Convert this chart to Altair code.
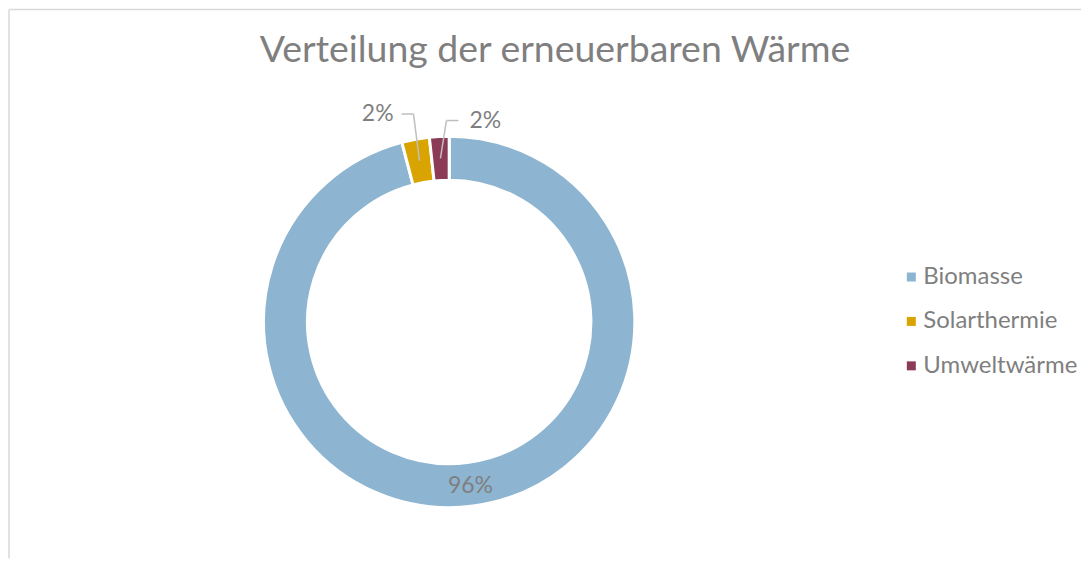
import altair as alt
import pandas as pd

categories = ["Biomasse", "Solarthermie", "Umweltwärme"]
shares = [95.9, 2.4, 1.7]
labels = ["96%", "2%", "2%"]
colors = ["#8DB4D0", "#DAA400", "#8B3B56"]
title_text = "Verteilung der erneuerbaren Wärme"

W, H = 1074, 550
CX, CY = 441, 313
R_OUT, R_IN = 186, 142
R_MID, R_LAB = 164, 166
GRAY = "#7f7f7f"
FONT = "Lato"

df = pd.DataFrame({"cat": categories, "share": shares, "label": labels,
                   "ord": list(range(len(categories)))})

base = alt.Chart(df)

arcs = base.mark_arc(innerRadius=R_IN, outerRadius=R_OUT, stroke="white",
                     strokeWidth=3).encode(
    theta=alt.Theta("share:Q", stack=True),
    color=alt.Color("cat:N", sort=categories,
                    scale=alt.Scale(domain=categories, range=colors),
                    legend=alt.Legend(orient="none", legendX=892, legendY=256,
                                      title=None, symbolType="square",
                                      symbolSize=81, symbolStrokeWidth=0,
                                      labelFontSize=24, labelColor=GRAY,
                                      labelFont=FONT, rowPadding=20.5,
                                      labelOffset=0)),
    order=alt.Order("ord:Q"),
    x=alt.value(CX), y=alt.value(CY),
)

geo = base.transform_joinaggregate(total="sum(share)").transform_window(
    cum="sum(share)", sort=[alt.SortField("ord")]
).transform_calculate(
    mid="2*PI*(datum.cum - datum.share/2)/datum.total",
    small="datum.share/datum.total < 0.05",
    dir="datum.ord % 2 == 0 ? 1 : -1",
).transform_calculate(
    sx=f"{CX} + {R_MID}*sin(datum.mid)",
    sy=f"{CY} - {R_MID}*cos(datum.mid)",
    bx=f"{CX} + {R_LAB}*sin(datum.mid)",
    by=f"{CY} - {R_LAB}*cos(datum.mid)",
).transform_calculate(
    ex="datum.sx + datum.dir*6",
    ey="datum.sy - (datum.dir < 0 ? 47 : 38)",
).transform_calculate(
    hx="datum.ex + datum.dir*12",
).transform_calculate(
    lx="datum.hx + (datum.dir < 0 ? -8 : 11)",
)

small = geo.transform_filter("datum.small")

lead1 = small.mark_rule(color="#bfbfbf", strokeWidth=1.5).encode(
    x=alt.X("sx:Q", scale=None, axis=None), y=alt.Y("sy:Q", scale=None, axis=None),
    x2="ex:Q", y2="ey:Q")
lead2 = small.mark_rule(color="#bfbfbf", strokeWidth=1.5).encode(
    x=alt.X("ex:Q", scale=None, axis=None), y=alt.Y("ey:Q", scale=None, axis=None),
    x2="hx:Q")

lab_left = small.transform_filter("datum.dir < 0").mark_text(
    align="right", baseline="middle", font=FONT, fontSize=23, color=GRAY).encode(
    x=alt.X("lx:Q", scale=None, axis=None), y=alt.Y("ey:Q", scale=None, axis=None),
    text="label:N")
lab_right = small.transform_filter("datum.dir > 0").mark_text(
    align="left", baseline="middle", font=FONT, fontSize=23, color=GRAY).encode(
    x=alt.X("lx:Q", scale=None, axis=None), y=alt.Y("ey:Q", scale=None, axis=None),
    text="label:N")
lab_big = geo.transform_filter("!datum.small").mark_text(
    align="center", baseline="middle", font=FONT, fontSize=23, color=GRAY).encode(
    x=alt.X("bx:Q", scale=None, axis=None), y=alt.Y("by:Q", scale=None, axis=None),
    text="label:N")

title = alt.Chart(pd.DataFrame({"t": [title_text]})).mark_text(
    align="center", baseline="alphabetic", font=FONT, fontSize=37.5, color=GRAY).encode(
    x=alt.value(547), y=alt.value(53), text="t:N")

border_left = alt.Chart(pd.DataFrame({"k": [0]})).mark_rule(color="#d9d9d9", strokeWidth=1.5).encode(
    x=alt.value(0), y=alt.value(0), y2=alt.value(H))
border_top = alt.Chart(pd.DataFrame({"k": [0]})).mark_rule(color="#d9d9d9", strokeWidth=1.5).encode(
    x=alt.value(0), x2=alt.value(W), y=alt.value(0))

chart = alt.layer(border_left, border_top, arcs, lead1, lead2, lab_left, lab_right,
                  lab_big, title).properties(
    width=W, height=H, padding=0, background="white"
).configure_view(stroke=None)

chart.save("out.html", embed_options={"renderer": "svg", "actions": False})
